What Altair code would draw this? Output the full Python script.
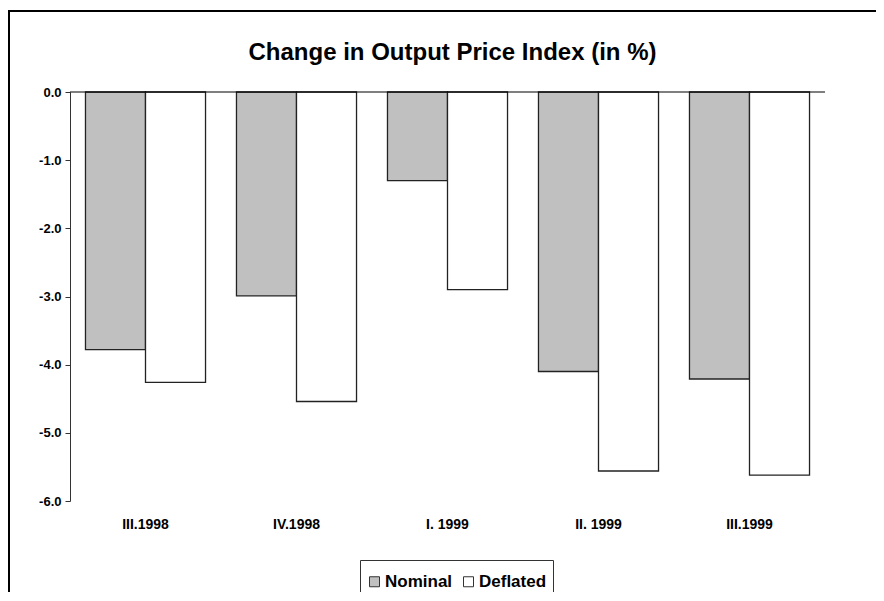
import altair as alt
import pandas as pd

categories = ["III.1998", "IV.1998", "I. 1999", "II. 1999", "III.1999"]
series = ["Nominal", "Deflated"]
nominal = [-3.78, -2.99, -1.30, -4.10, -4.21]
deflated = [-4.26, -4.54, -2.90, -5.56, -5.62]
y_ticks = [0, -1, -2, -3, -4, -5, -6]
title_text = "Change in Output Price Index (in %)"

rows = []
for c, n, d in zip(categories, nominal, deflated):
    rows.append({"quarter": c, "series": "Nominal", "value": n})
    rows.append({"quarter": c, "series": "Deflated", "value": d})
df = pd.DataFrame(rows)

FONT = "Liberation Sans"
W, H = 755, 409

label_expr = "datum.value < 0 ? '-' + format(-datum.value, '.1f') : format(datum.value, '.1f')"

bars = alt.Chart(df).mark_bar(stroke="#222222", strokeWidth=1.3).encode(
    x=alt.X("quarter:N", sort=categories, title=None,
            scale=alt.Scale(paddingInner=0.205, paddingOuter=0.1025),
            axis=alt.Axis(domain=False, ticks=False, labelAngle=0, labelPadding=16,
                          labelFont=FONT, labelFontSize=14, labelFontWeight="bold",
                          labelColor="black")),
    xOffset=alt.XOffset("series:N", sort=series, scale=alt.Scale(paddingInner=0, paddingOuter=0)),
    y=alt.Y("value:Q", title=None,
            scale=alt.Scale(domain=[-6, 0], nice=False),
            axis=alt.Axis(values=y_ticks, labelExpr=label_expr, grid=False, tickSize=5,
                          domainColor="#333333", tickColor="#333333", labelPadding=4,
                          labelFont=FONT, labelFontSize=13, labelFontWeight="bold",
                          labelColor="black")),
    fill=alt.Fill("series:N", sort=series,
                  scale=alt.Scale(domain=series, range=["#C0C0C0", "#FFFFFF"]),
                  legend=alt.Legend(title=" ", titleFontSize=5, titlePadding=2,
                                    orient="none", legendX=290, legendY=468,
                                    direction="horizontal", symbolType="square",
                                    symbolSize=100, symbolStrokeColor="#333333",
                                    symbolStrokeWidth=1, labelFont=FONT, labelFontSize=17,
                                    labelFontWeight="bold", labelColor="black",
                                    columnPadding=7, padding=6, strokeColor="#333333",
                                    labelOffset=2)),
)

zero = alt.Chart(pd.DataFrame({"v": [0]})).mark_rule(color="black", strokeWidth=1.2).encode(
    y=alt.Y("v:Q")
)

title = alt.Chart(pd.DataFrame({"t": [title_text]})).mark_text(
    font=FONT, fontSize=24, fontWeight="bold", color="black", align="center",
    baseline="alphabetic"
).encode(x=alt.value(W / 2 + 5), y=alt.value(-32), text="t:N")

frame_left = alt.Chart(pd.DataFrame({"v": [0]})).mark_rule(color="black", strokeWidth=2).encode(
    x=alt.value(-61), y=alt.value(-81), y2=alt.value(H + 200)
)
frame_top = alt.Chart(pd.DataFrame({"v": [0]})).mark_rule(color="black", strokeWidth=2).encode(
    x=alt.value(-62), x2=alt.value(W + 200), y=alt.value(-81)
)

chart = alt.layer(bars, zero, title, frame_left, frame_top).properties(
    width=W, height=H,
    background="white",
    padding={"left": 62, "top": 84, "right": 51, "bottom": 91},
    autosize=alt.AutoSizeParams(type="none"),
).configure_view(strokeWidth=0, stroke=None)

chart.save("out.html", embed_options={"renderer": "svg", "actions": False})
